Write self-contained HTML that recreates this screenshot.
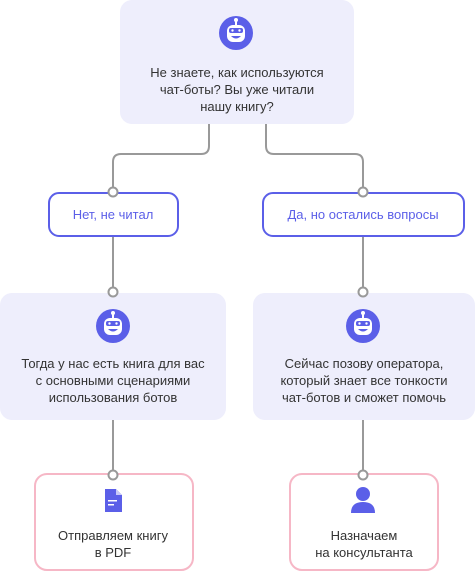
<!DOCTYPE html>
<html><head><meta charset="utf-8"><style>
html,body{margin:0;padding:0;background:#fff}
svg{display:block}
text{font-family:"Liberation Sans","DejaVu Sans",sans-serif;font-size:13px;fill:#333;text-anchor:middle}
.b{fill:#5b5fe8}
</style></head><body>
<svg width="475" height="572" viewBox="0 0 475 572" xmlns="http://www.w3.org/2000/svg">
<defs>
<g id="bot">
<circle cx="0" cy="0" r="17" fill="#5b5fe8"/>
<circle cx="0" cy="-13" r="2" fill="#fff"/>
<rect x="-1" y="-12" width="2" height="4" fill="#fff"/>
<rect x="-9" y="-8" width="18" height="17" rx="6" fill="#fff"/>
<rect x="-7" y="-5" width="14" height="5" rx="2" fill="#5b5fe8"/>
<circle cx="-3.5" cy="-2.5" r="1.2" fill="#fff"/>
<circle cx="3.5" cy="-2.5" r="1.2" fill="#fff"/>
<path d="M-5 3 Q0 8 5 3 Z" fill="#5b5fe8"/>
</g>
</defs>
<g fill="none" stroke="#999" stroke-width="2">
<path d="M209 124 V146 Q209 154 201 154 H121 Q113 154 113 162 V192"/>
<path d="M266 124 V146 Q266 154 274 154 H355 Q363 154 363 162 V192"/>
<path d="M113 236 V292"/>
<path d="M363 236 V292"/>
<path d="M113 420 V475"/>
<path d="M363 420 V475"/>
</g>
<rect x="120" y="0" width="234" height="124" rx="12" fill="#eeeefc"/>
<rect x="0" y="293" width="226" height="127" rx="12" fill="#eeeefc"/>
<rect x="253" y="293" width="222" height="127" rx="12" fill="#eeeefc"/>
<rect x="49" y="193" width="129" height="43" rx="10" fill="#fff" stroke="#5b5fe8" stroke-width="2"/>
<rect x="263" y="193" width="201" height="43" rx="10" fill="#fff" stroke="#5b5fe8" stroke-width="2"/>
<rect x="35" y="474" width="158" height="96" rx="12" fill="#fff" stroke="#f6b7c6" stroke-width="2"/>
<rect x="290" y="474" width="148" height="96" rx="12" fill="#fff" stroke="#f6b7c6" stroke-width="2"/>
<g fill="#fff" stroke="#999" stroke-width="2">
<circle cx="113" cy="192" r="4.5"/><circle cx="363" cy="192" r="4.5"/>
<circle cx="113" cy="292" r="4.5"/><circle cx="363" cy="292" r="4.5"/>
<circle cx="113" cy="475" r="4.5"/><circle cx="363" cy="475" r="4.5"/>
</g>
<use href="#bot" x="236" y="33"/>
<use href="#bot" x="113" y="326"/>
<use href="#bot" x="363" y="326"/>
<text x="237" y="77">Не знаете, как используются</text>
<text x="237" y="94">чат-боты? Вы уже читали</text>
<text x="237" y="111">нашу книгу?</text>
<text x="113" y="219" style="fill:#5b5fe8">Нет, не читал</text>
<text x="363" y="219" style="fill:#5b5fe8">Да, но остались вопросы</text>
<text x="113" y="368">Тогда у нас есть книга для вас</text>
<text x="113" y="385">с основными сценариями</text>
<text x="113" y="402">использования ботов</text>
<text x="364" y="368">Сейчас позову оператора,</text>
<text x="364" y="385">который знает все тонкости</text>
<text x="364" y="402">чат-ботов и сможет помочь</text>
<path d="M105 489 H116 L122 495 V512 H105 Z" class="b"/>
<path d="M116 489 V495 H122 Z" fill="#c8c9f7"/>
<rect x="108" y="500" width="9" height="1.5" fill="#fff"/>
<rect x="108" y="504" width="6" height="1.5" fill="#fff"/>
<circle cx="363" cy="494" r="7" class="b"/>
<circle cx="363" cy="494" r="5" fill="#fff" opacity="0"/>
<path d="M351 513 Q351 502 363 502 Q375 502 375 513 Z" class="b"/>
<text x="113" y="540">Отправляем книгу</text>
<text x="113" y="557">в PDF</text>
<text x="364" y="540">Назначаем</text>
<text x="364" y="557">на консультанта</text>
</svg>
</body></html>
